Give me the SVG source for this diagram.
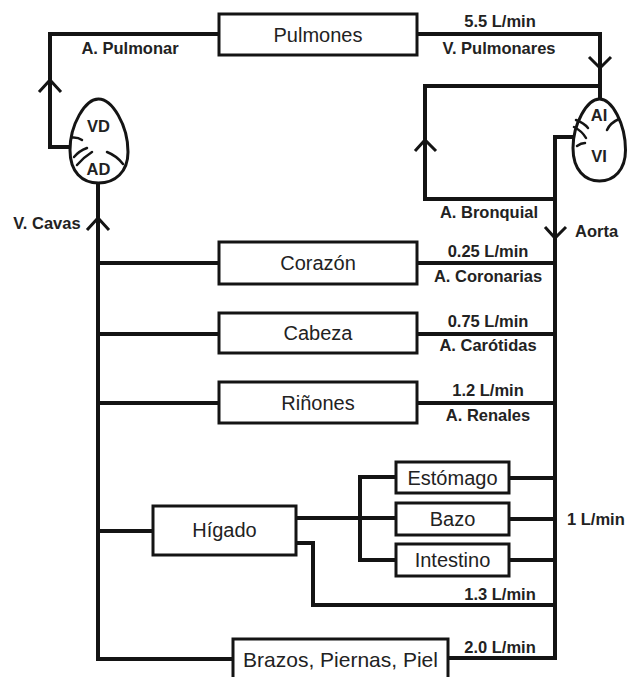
<svg xmlns="http://www.w3.org/2000/svg" width="627" height="677" viewBox="0 0 627 677">
<style>
.ln{fill:none;stroke:#141414;stroke-width:4;stroke-linejoin:miter;stroke-linecap:butt}
.ar{fill:none;stroke:#141414;stroke-width:3}
.bx{fill:#fff;stroke:#141414;stroke-width:3}
.ht{fill:#fff;stroke:#141414;stroke-width:3}
.vl{fill:none;stroke:#141414;stroke-width:2.5;stroke-linecap:round}
.t{font-family:"Liberation Sans",Arial,sans-serif;font-size:20px;fill:#222;text-anchor:middle}
.b{font-family:"Liberation Sans",Arial,sans-serif;font-size:16.5px;font-weight:bold;fill:#222;text-anchor:middle}
</style>
<rect width="627" height="677" fill="#fff"/>
<g id="connectors">
<polyline class="ln" points="219,34 50,34 50,147 71,147"/>
<polyline class="ln" points="417,34 600,34 600,100"/>
<polyline class="ln" points="600,86 425,86 425,199 555,199"/>
<polyline class="ln" points="574,137 555,137 555,658"/>
<line class="ln" x1="98" y1="183" x2="98" y2="659"/>
<line class="ln" x1="96" y1="659" x2="233" y2="659"/>
<line class="ln" x1="98" y1="263" x2="219" y2="263"/>
<line class="ln" x1="417" y1="263" x2="555" y2="263"/>
<line class="ln" x1="98" y1="334" x2="219" y2="334"/>
<line class="ln" x1="417" y1="334" x2="555" y2="334"/>
<line class="ln" x1="98" y1="403" x2="219" y2="403"/>
<line class="ln" x1="417" y1="403" x2="555" y2="403"/>
<line class="ln" x1="98" y1="531" x2="153" y2="531"/>
<line class="ln" x1="296" y1="518" x2="396" y2="518"/>
<polyline class="ln" points="396,477 360,477 360,560 396,560"/>
<polyline class="ln" points="296,543 313,543 313,605 555,605"/>
<line class="ln" x1="509" y1="478" x2="555" y2="478"/>
<line class="ln" x1="509" y1="519" x2="555" y2="519"/>
<line class="ln" x1="509" y1="560" x2="555" y2="560"/>
<polyline class="ln" points="448,658 557,658"/>
<polyline class="ar" points="39,92 50,80 61,92"/>
<polyline class="ar" points="589,57 600,68 611,57"/>
<polyline class="ar" points="415,151 425,140 436,151"/>
<polyline class="ar" points="545,227 555,238 566,227"/>
<polyline class="ar" points="87,230 98,218 109,230"/>
</g>
<g id="heart-right-side">
<path class="ht" d="M98.5,99 C112,99 128,125 128,152 C128,172 115,183 98.5,183 C82,183 70,172 70,150 C70,125 85,99 98.5,99 Z"/>
<path class="vl" d="M72,137.5 Q78,137 82,140"/>
<path class="vl" d="M74,157 Q79,151 87,148"/>
<path class="vl" d="M77,165 Q84,157 92,152"/>
<path class="vl" d="M107,152 Q117,156 123,164"/>
<text class="b" x="98.5" y="132">VD</text>
<text class="b" x="98.5" y="175">AD</text>
</g>
<g id="heart-left-side">
<path class="ht" d="M599.5,99 C612,99 625.5,124 625.5,150 C625.5,170 614,181 599.5,181 C585,181 573,170 573,148 C573,124 587,99 599.5,99 Z"/>
<path class="vl" d="M576,120 Q584,123 588,128"/>
<path class="vl" d="M574,127 Q582,131 586,138"/>
<path class="vl" d="M577,146 Q581,143 585,143"/>
<path class="vl" d="M607,130 Q610,123 619,119"/>
<text class="b" x="599" y="121">AI</text>
<text class="b" x="599" y="162">VI</text>
</g>
<g id="pulmones"><rect class="bx" x="219" y="14" width="198" height="41"/><text class="t" x="318" y="42">Pulmones</text></g>
<g id="corazon"><rect class="bx" x="219" y="242" width="198" height="42"/><text class="t" x="318" y="270">Corazón</text></g>
<g id="cabeza"><rect class="bx" x="219" y="313" width="198" height="40"/><text class="t" x="318" y="340">Cabeza</text></g>
<g id="rinones"><rect class="bx" x="219" y="382" width="198" height="41"/><text class="t" x="318" y="410">Riñones</text></g>
<g id="higado"><rect class="bx" x="153" y="506" width="143" height="49"/><text class="t" x="224.5" y="537">Hígado</text></g>
<g id="estomago"><rect class="bx" x="396" y="462" width="113" height="31"/><text class="t" x="452.5" y="485">Estómago</text></g>
<g id="bazo"><rect class="bx" x="396" y="503" width="113" height="32"/><text class="t" x="452.5" y="526">Bazo</text></g>
<g id="intestino"><rect class="bx" x="396" y="544" width="113" height="32"/><text class="t" x="452.5" y="567">Intestino</text></g>
<g id="brazos"><rect class="bx" x="233" y="639" width="215" height="45"/><text class="t" x="340.5" y="667" style="font-size:21px">Brazos, Piernas, Piel</text></g>
<g id="labels">
<text class="b" x="130" y="54">A. Pulmonar</text>
<text class="b" x="500" y="27">5.5 L/min</text>
<text class="b" x="499" y="54">V. Pulmonares</text>
<text class="b" x="489" y="218">A. Bronquial</text>
<text class="b" x="575" y="237" style="text-anchor:start">Aorta</text>
<text class="b" x="47" y="229">V. Cavas</text>
<text class="b" x="488" y="257">0.25 L/min</text>
<text class="b" x="488" y="282">A. Coronarias</text>
<text class="b" x="488" y="327">0.75 L/min</text>
<text class="b" x="488" y="351">A. Carótidas</text>
<text class="b" x="488" y="396">1.2 L/min</text>
<text class="b" x="488" y="421">A. Renales</text>
<text class="b" x="567" y="525" style="text-anchor:start">1 L/min</text>
<text class="b" x="500" y="600">1.3 L/min</text>
<text class="b" x="500" y="653">2.0 L/min</text>
</g>
</svg>
